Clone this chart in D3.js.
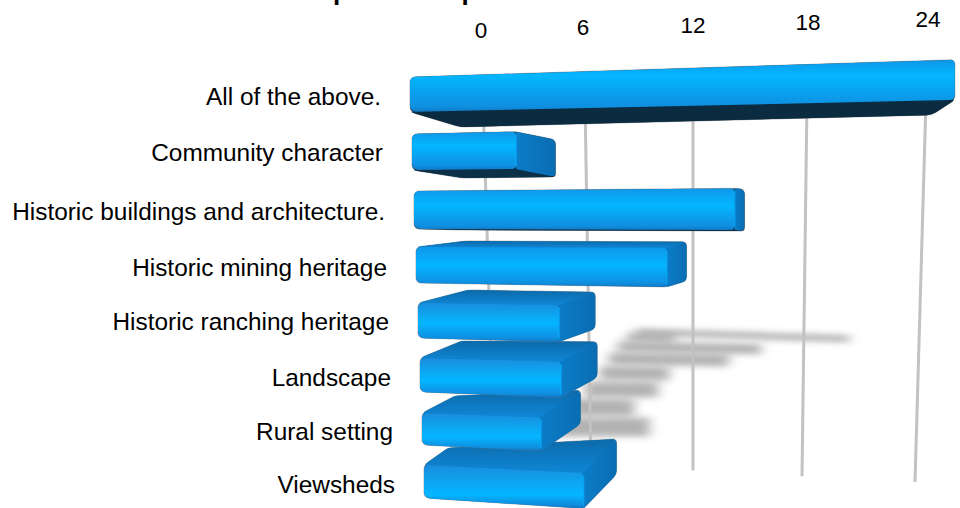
<!DOCTYPE html>
<html><head><meta charset="utf-8">
<script src="https://cdn.jsdelivr.net/npm/d3@7"></script>
<style>html,body{margin:0;background:#fff;overflow:hidden}text{font-family:"Liberation Sans",Arial,sans-serif;fill:#000}</style>
</head><body><svg id="c" width="960" height="508"></svg>
<script>
const title = "Which of these is most important to preserve";
const categories = ["All of the above.","Community character","Historic buildings and architecture.","Historic mining heritage","Historic ranching heritage","Landscape","Rural setting","Viewsheds"];
const values = [24,5,14,11,6,6,5,7];
const tickValues = [0,6,12,18,24];

const svg = d3.select("#c");
const defs = svg.append("defs");
const rows = d3.range(categories.length);

// perspective model: row index r, value v, depth d (0 front, 1 back)
const xLeft = d3.scaleLinear().domain([0,7]).range([410,424]);
const unit = d3.scaleLinear().domain(rows).range([22.7,20.8,22.9,22.8,23.5,23.5,23.8,22.8]);
const yLeft = d3.scaleLinear().domain(rows).range([77,134,191,247,303,358,413,465]);
const slopeTop = d3.scaleLinear().domain([0,7]).range([-0.72,1.14]);
const slopeBot = d3.scaleLinear().domain([0,7]).range([-0.5,1.5]);
const faceH = d3.scaleLinear().domain(rows).range([35,36,38,36,35,34,32,33]);
const depthXLeft = d3.scaleLinear().domain([0,4,7]).range([50,50,24]);
const depthXRight = d3.scaleLinear().domain([0,24]).range([56,-23]);
const depthY = d3.scaleLinear().domain([0,7]).range([15,-34]);
const depthYLeft = r => Math.max(depthY(r), -17);
const P = (r,v,bottom,d) => {
  const dx = v===0 ? depthXLeft(r) : depthXRight(v);
  const dy = v===0 ? depthYLeft(r) : depthY(r);
  return [xLeft(r)+v*unit(r)+d*dx,
          yLeft(r)+(bottom? faceH(r)+v*slopeBot(r) : v*slopeTop(r))+d*dy];
};
function rounded(pts, rad){
  const p = d3.path(), n = pts.length;
  const toward = (a,b,t)=>{const L=Math.hypot(b[0]-a[0],b[1]-a[1])||1,k=Math.min(t,L/2)/L;return [a[0]+(b[0]-a[0])*k,a[1]+(b[1]-a[1])*k];};
  pts.forEach((c,i)=>{
    const a = toward(c,pts[(i+n-1)%n],rad[i]), b = toward(c,pts[(i+1)%n],rad[i]);
    if(i===0) p.moveTo(a[0],a[1]); else p.lineTo(a[0],a[1]);
    p.quadraticCurveTo(c[0],c[1],b[0],b[1]);
  });
  p.closePath();
  return p.toString();
}

// gradients
const peak = d3.scaleLinear().domain([0,7]).range([0.3,0.68]);
const fg = defs.selectAll(".f").data(rows).join("linearGradient").attr("id",r=>"front"+r).attr("x1",0).attr("x2",0).attr("y1",0).attr("y2",1);
fg.append("stop").attr("offset",0).attr("stop-color",r=>r>3?"#1a8ddc":"#0f97e8");
fg.append("stop").attr("offset",r=>peak(r)).attr("stop-color","#04b6ff");
fg.append("stop").attr("offset",0.9).attr("stop-color","#0f8fe0");
fg.append("stop").attr("offset",1).attr("stop-color","#1278c4");
const tg = defs.append("linearGradient").attr("id","topFace").attr("x1",0).attr("x2",0).attr("y1",0).attr("y2",1);
tg.append("stop").attr("offset",0).attr("stop-color","#0c6aa9");
tg.append("stop").attr("offset",1).attr("stop-color","#0f86d6");
const sg = defs.append("linearGradient").attr("id","sideFace").attr("x1",0).attr("x2",1).attr("y1",0).attr("y2",0);
sg.append("stop").attr("offset",0).attr("stop-color","#0b7cc8");
sg.append("stop").attr("offset",1).attr("stop-color","#0a6db2");
defs.append("filter").attr("id","blur").attr("filterUnits","userSpaceOnUse")
  .attr("x",0).attr("y",0).attr("width",960).attr("height",508)
  .append("feGaussianBlur").attr("stdDeviation","6 3");

// floor shadows
const shY = d3.scalePow().exponent(1.5).domain([0,7]).range([332,427]);
const shX = d3.scaleLinear().domain([0,4,7]).range([636,600,555]);
const shU = d3.scaleLinear().domain([0,7]).range([8.9,13.5]);
const shW = d3.scaleLinear().domain([0,7]).range([7,19]);
const shS = d3.scaleLinear().domain([0,7]).range([0.28,0]);
svg.append("g").selectAll("line").data(rows).join("line")
  .attr("x1",r=>shX(r)).attr("y1",r=>shY(r))
  .attr("x2",r=>shX(r)+values[r]*shU(r)).attr("y2",r=>shY(r)+values[r]*shS(r))
  .attr("stroke","#a0a0a0").attr("stroke-width",r=>shW(r)).attr("opacity",0.8).attr("filter","url(#blur)");

// gridlines
const gridTop = d3.scaleLinear().domain(tickValues).range([483,585,693,807,926]);
const gridBot = d3.scaleLinear().domain(tickValues).range([494,591,693,802,915]);
const gridEnd = d3.scaleLinear().domain([0,24]).range([459,482]);
svg.append("g").selectAll("line").data(tickValues).join("line")
  .attr("x1",v=>gridTop(v)).attr("y1",100)
  .attr("x2",v=>gridBot(v)).attr("y2",v=>gridEnd(v))
  .attr("stroke","#c2c2c2").attr("stroke-width",3);

// tick labels
const tickX = d3.scaleLinear().domain(tickValues).range([481,583,693,808,928]);
const tickY = d3.scaleLinear().domain([0,24]).range([38,27]);
svg.append("g").selectAll("text").data(tickValues).join("text")
  .attr("x",v=>tickX(v)).attr("y",v=>tickY(v)).attr("text-anchor","middle").attr("font-size",22.5).text(d=>d);

// bars: lowest row first so upper rows overlap
const bars = svg.append("g").selectAll("g").data(rows.slice().reverse()).join("g");
bars.each(function(r){
  const g = d3.select(this), v = values[r];
  const a = P(r,0,false,0), b = P(r,v,false,0), c = P(r,v,true,0), e = P(r,0,true,0);
  const a2 = P(r,0,false,1), b2 = P(r,v,false,1), c2 = P(r,v,true,1), e2 = P(r,0,true,1);
  const under = depthY(r) > 0.5;
  const side = depthXRight(v) > 0;
  const hull = under ? (side ? [a,b,b2,c2,e2,e] : [a,b,c,c2,e2,e]) : [a,a2,b2,c2,c,e];
  const hullRad = under ? (side ? [6,2,5,3,4,6] : [6,5,5,5,4,6]) : [5,3,4,4,3,6];
  g.append("path").attr("d",rounded(hull,hullRad))
    .attr("fill",under?(r===0?"#0a2b40":"#0b3048"):"#0c78c4")
    .attr("stroke","#666").attr("stroke-opacity",0.45).attr("stroke-width",1);
  if(under){
    g.append("path").attr("d",rounded([e,c,c2,e2],[3,2,5,4])).attr("fill",r===0?"#0a2b40":"#0b3048");
  } else {
    g.append("path").attr("d",rounded([a,b,b2,a2],[4,2,4,3])).attr("fill","url(#topFace)");
  }
  if(side){
    g.append("path").attr("d",rounded([b,b2,c2,c],[1,5,5,1])).attr("fill","url(#sideFace)");
  }
  g.append("path").attr("d",rounded([a,b,c,e],[6,r===0?5:4,r===0?5:4,7])).attr("fill",`url(#front${r})`);
  if(side){
    g.append("line").attr("x1",b[0]).attr("y1",b[1]+3).attr("x2",c[0]).attr("y2",c[1]-3)
      .attr("stroke","#08a8f8").attr("stroke-width",1.5).attr("opacity",0.8);
  }
});

// category labels
const labelX = d3.scaleLinear().domain([0,7]).range([381,395]);
const labelY = d3.scaleLinear().domain(rows).range([105,161,220,276,330,386,440,493]);
svg.append("g").selectAll("text").data(rows).join("text")
  .attr("x",r=>labelX(r)).attr("y",r=>labelY(r)).attr("text-anchor","end").attr("font-size",24.4).text(r=>categories[r]);

// title, clipped by the page top
svg.append("text").attr("x",570).attr("y",-0.5).attr("text-anchor","end").attr("font-size",26).attr("font-weight","bold").text(title);
</script></body></html>
